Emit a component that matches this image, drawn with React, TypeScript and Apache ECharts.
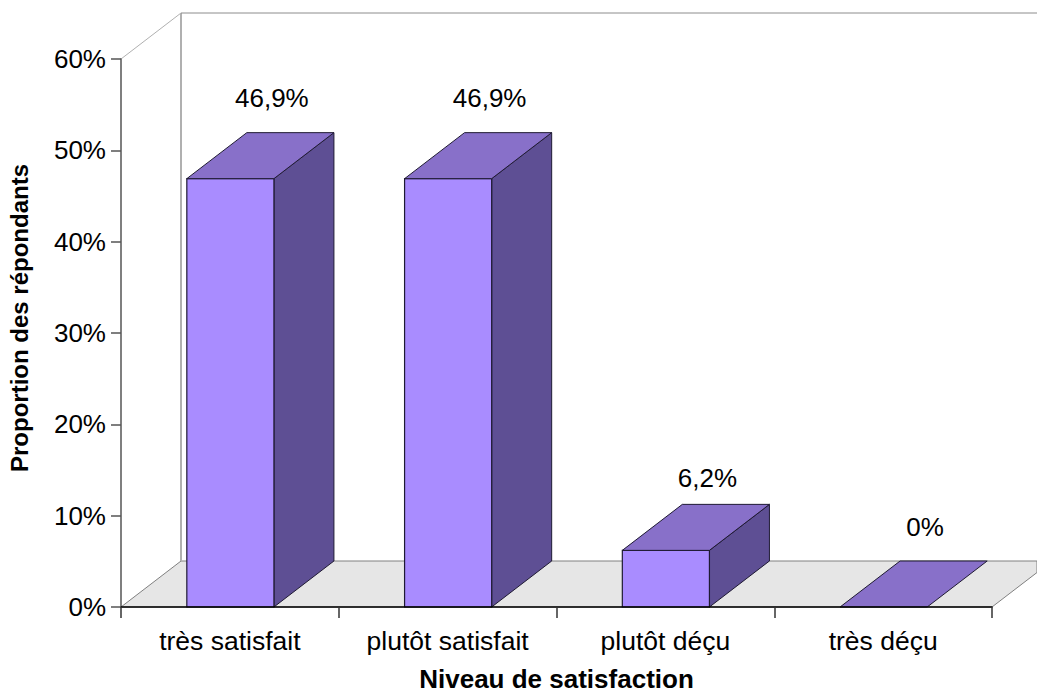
import React, { useEffect, useRef } from "react";
import * as echarts from "echarts";

const categories = ["très satisfait", "plutôt satisfait", "plutôt déçu", "très déçu"];
const values = [46.9, 46.9, 6.2, 0];
const valueLabels = ["46,9%", "46,9%", "6,2%", "0%"];
const yTicks = { min: 0, max: 60, interval: 10 };

const FONT = "'Liberation Sans', Arial, sans-serif";
const DX = 60;
const DY = -46;
const FRONT = "#a98cff";
const TOP = "#8870c9";
const SIDE = "#5e4f94";
const EDGE = "#1f1a33";
const labelLift = [35, 35, 26, 34];

export default function App() {
  const ref = useRef<HTMLDivElement>(null);
  useEffect(() => {
    document.body.style.margin = "0";
    const chart = echarts.init(ref.current!, undefined, { renderer: "svg", width: 1037, height: 692 });
    chart.setOption({
      animation: false,
      backgroundColor: "#ffffff",
      grid: { left: 121, right: 45, top: 59, bottom: 85, containLabel: false, outerBoundsMode: "none" },
      xAxis: {
        type: "category",
        data: categories,
        z: 10,
        name: "Niveau de satisfaction",
        nameLocation: "middle",
        nameGap: 58.5,
        nameTextStyle: { fontFamily: FONT, fontSize: 26, fontWeight: "bold", color: "#000" },
        axisLine: { show: true, lineStyle: { color: "#000", width: 1.5 } },
        axisTick: { show: true, length: 11, alignWithLabel: false, lineStyle: { color: "#333", width: 1.5 } },
        axisLabel: { fontFamily: FONT, fontSize: 26.5, color: "#000", margin: 20, interval: 0 },
        splitLine: { show: false },
      },
      yAxis: {
        type: "value",
        ...yTicks,
        z: 10,
        name: "Proportion des répondants",
        nameLocation: "middle",
        nameGap: 90,
        nameRotate: 90,
        nameTextStyle: { fontFamily: FONT, fontSize: 24, fontWeight: "bold", color: "#000", padding: [0, 0, 0, 30] },
        axisLine: { show: true, lineStyle: { color: "#555", width: 1.5 } },
        axisTick: { show: true, length: 10, lineStyle: { color: "#555", width: 1.5 } },
        axisLabel: { fontFamily: FONT, fontSize: 26, color: "#000", margin: 15, formatter: "{value}%" },
        splitLine: { show: false },
      },
      series: [
        {
          type: "custom",
          z: 1,
          silent: true,
          data: [[0, 0]],
          renderItem: (_p: any, api: any) => {
            const w = api.size([1, 0])[0];
            const o = api.coord([0, 0]);
            const x0 = o[0] - w / 2;
            const y0 = o[1];
            const xr = x0 + w * 4;
            const top = api.coord([0, yTicks.max])[1];
            const edgeX = 1037;
            const edgeY = y0 + (DY * (edgeX - xr)) / DX;
            return {
              type: "group",
              children: [
                {
                  type: "polygon",
                  shape: { points: [[x0, y0], [x0 + DX, y0 + DY], [edgeX, y0 + DY], [edgeX, edgeY], [xr, y0]] },
                  style: { fill: "#e6e6e6", stroke: "#808080", lineWidth: 1 },
                },
                { type: "line", shape: { x1: x0 + DX, y1: top + DY, x2: x0 + DX, y2: y0 + DY }, style: { stroke: "#b0b0b0", lineWidth: 2 } },
                { type: "line", shape: { x1: x0 + DX, y1: top + DY, x2: edgeX, y2: top + DY }, style: { stroke: "#8c8c8c", lineWidth: 1 } },
                { type: "line", shape: { x1: x0, y1: top, x2: x0 + DX, y2: top + DY }, style: { stroke: "#b0b0b0", lineWidth: 1 } },
              ],
            };
          },
        },
        {
          type: "custom",
          z: 3,
          silent: true,
          data: values.map((v, i) => [i, v]),
          renderItem: (p: any, api: any) => {
            const i = api.value(0);
            const v = api.value(1);
            const c = api.coord([i, v]);
            const b = api.coord([i, 0]);
            const w = api.size([1, 0])[0] * 0.4;
            const l = c[0] - w / 2 + 0.5;
            const r = c[0] + w / 2 + 0.5;
            const children: any[] = [];
            if (v > 0) {
              children.push(
                {
                  type: "polygon",
                  shape: { points: [[r, c[1]], [r + DX, c[1] + DY], [r + DX, b[1] + DY], [r, b[1]]] },
                  style: { fill: SIDE, stroke: EDGE, lineWidth: 1 },
                },
                {
                  type: "rect",
                  shape: { x: l, y: c[1], width: w, height: b[1] - c[1] },
                  style: { fill: FRONT, stroke: EDGE, lineWidth: 1.2 },
                },
              );
            }
            children.push({
              type: "polygon",
              shape: { points: [[l, c[1]], [l + DX, c[1] + DY], [r + DX, c[1] + DY], [r, c[1]]] },
              style: { fill: TOP, stroke: EDGE, lineWidth: 1 },
            });
            children.push({
              type: "text",
              style: {
                x: c[0] + 42,
                y: c[1] + DY - labelLift[p.dataIndex],
                text: valueLabels[p.dataIndex],
                fontFamily: FONT,
                fontSize: 26,
                fill: "#000",
                align: "center",
                verticalAlign: "middle",
              },
            });
            return { type: "group", children };
          },
        },
      ],
    });
    return () => chart.dispose();
  }, []);
  return <div ref={ref} style={{ width: 1037, height: 692 }} />;
}
